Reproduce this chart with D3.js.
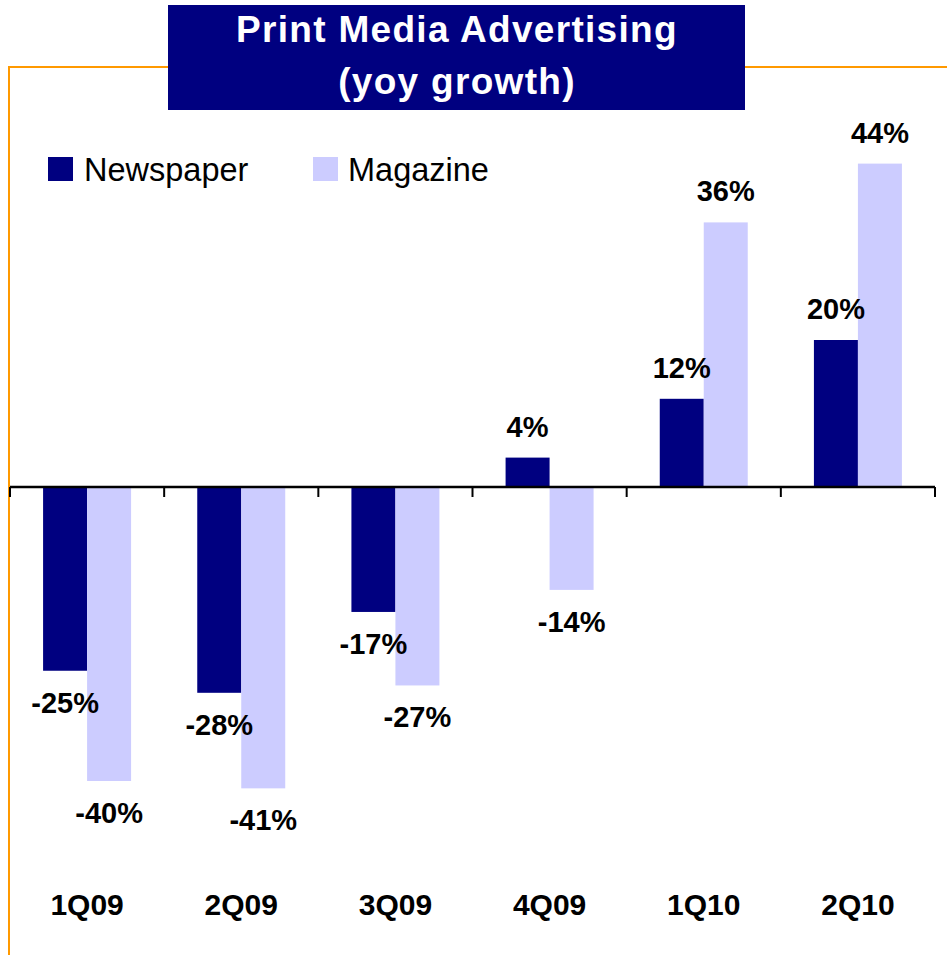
<!DOCTYPE html>
<html>
<head>
<meta charset="utf-8">
<script src="https://cdn.jsdelivr.net/npm/d3@7"></script>
<style>
  html, body { margin: 0; padding: 0; background: #fff; }
  svg { display: block; }
  text { font-family: "Liberation Sans", Arial, sans-serif; }
</style>
</head>
<body>
<svg id="chart" width="947" height="955"></svg>
<script>
// Quarterly year-over-year growth in print advertising (%)
const quarters = ["1Q09", "2Q09", "3Q09", "4Q09", "1Q10", "2Q10"];
const seriesNames = ["Newspaper", "Magazine"];
const newspaper = [-25, -28, -17, 4, 12, 20];
const magazine = [-40, -41, -27, -14, 36, 44];
const titleLines = ["Print Media Advertising", "(yoy growth)"];

const colors = { Newspaper: "#000080", Magazine: "#CCCCFF" };
const navy = "#000080";
const orange = "#FF9900";

const svg = d3.select("#chart");

const rows = quarters.map((q, i) => ({
  q,
  values: [
    { series: "Newspaper", value: newspaper[i] },
    { series: "Magazine", value: magazine[i] }
  ]
}));

// Scales
const x0 = d3.scaleBand().domain(quarters).range([10, 935]).padding(0);
const x1 = d3.scaleBand().domain(seriesNames)
  .range([0, x0.bandwidth()]).paddingInner(0).paddingOuter(0.752);
const y = d3.scaleLinear().domain([-50, 50]).range([854.5, 119.5]);

// Orange frame (top rule and left rule)
svg.append("line").attr("x1", 8).attr("x2", 947).attr("y1", 67).attr("y2", 67)
  .attr("stroke", orange).attr("stroke-width", 2);
svg.append("line").attr("x1", 9).attr("x2", 9).attr("y1", 66).attr("y2", 955)
  .attr("stroke", orange).attr("stroke-width", 2);

// Title box
svg.append("rect").attr("x", 168).attr("y", 5).attr("width", 577).attr("height", 105)
  .attr("fill", navy);
svg.append("g").selectAll("text").data(titleLines).join("text")
  .attr("x", 457).attr("y", (d, i) => 42 + i * 52)
  .attr("text-anchor", "middle")
  .attr("fill", "#fff")
  .attr("font-weight", "bold")
  .attr("font-size", 37)
  .attr("letter-spacing", 1.3)
  .text(d => d);

// Legend
const legendPos = [{ sx: 48, tx: 84 }, { sx: 313, tx: 348 }];
const legend = svg.append("g").selectAll("g").data(seriesNames).join("g");
legend.append("rect")
  .attr("x", (d, i) => legendPos[i].sx).attr("y", 157)
  .attr("width", 25).attr("height", 24)
  .attr("fill", d => colors[d]);
legend.append("text")
  .attr("x", (d, i) => legendPos[i].tx).attr("y", 181)
  .attr("font-size", 32.5)
  .attr("fill", "#000")
  .text(d => d);

// Bars
const groups = svg.append("g").selectAll("g").data(rows).join("g")
  .attr("transform", d => `translate(${x0(d.q)},0)`);

groups.selectAll("rect").data(d => d.values).join("rect")
  .attr("x", d => x1(d.series))
  .attr("width", x1.bandwidth())
  .attr("y", d => y(Math.max(0, d.value)))
  .attr("height", d => Math.abs(y(d.value) - y(0)))
  .attr("fill", d => colors[d.series]);

// Value labels
groups.selectAll("text").data(d => d.values).join("text")
  .attr("x", d => x1(d.series) + x1.bandwidth() / 2)
  .attr("y", d => d.value >= 0 ? y(d.value) - 21 : y(d.value) + 42)
  .attr("text-anchor", "middle")
  .attr("font-weight", "bold")
  .attr("font-size", 29)
  .attr("fill", "#000")
  .text(d => d.value + "%");

// Zero axis with ticks at category boundaries
const axisG = svg.append("g").attr("transform", `translate(0,${y(0)})`);
axisG.append("line").attr("x1", 10).attr("x2", 935).attr("y1", 0).attr("y2", 0)
  .attr("stroke", "#000").attr("stroke-width", 2.5);
const boundaries = quarters.map(q => x0(q)).concat([x0(quarters[quarters.length - 1]) + x0.bandwidth()]);
axisG.selectAll("line.tick").data(boundaries).join("line")
  .attr("class", "tick")
  .attr("x1", d => d).attr("x2", d => d)
  .attr("y1", 0).attr("y2", 10)
  .attr("stroke", "#000").attr("stroke-width", 2);

// Category labels along the bottom
svg.append("g").selectAll("text").data(quarters).join("text")
  .attr("x", d => x0(d) + x0.bandwidth() / 2)
  .attr("y", 915)
  .attr("text-anchor", "middle")
  .attr("font-weight", "bold")
  .attr("font-size", 30)
  .attr("fill", "#000")
  .text(d => d);
</script>
</body>
</html>
